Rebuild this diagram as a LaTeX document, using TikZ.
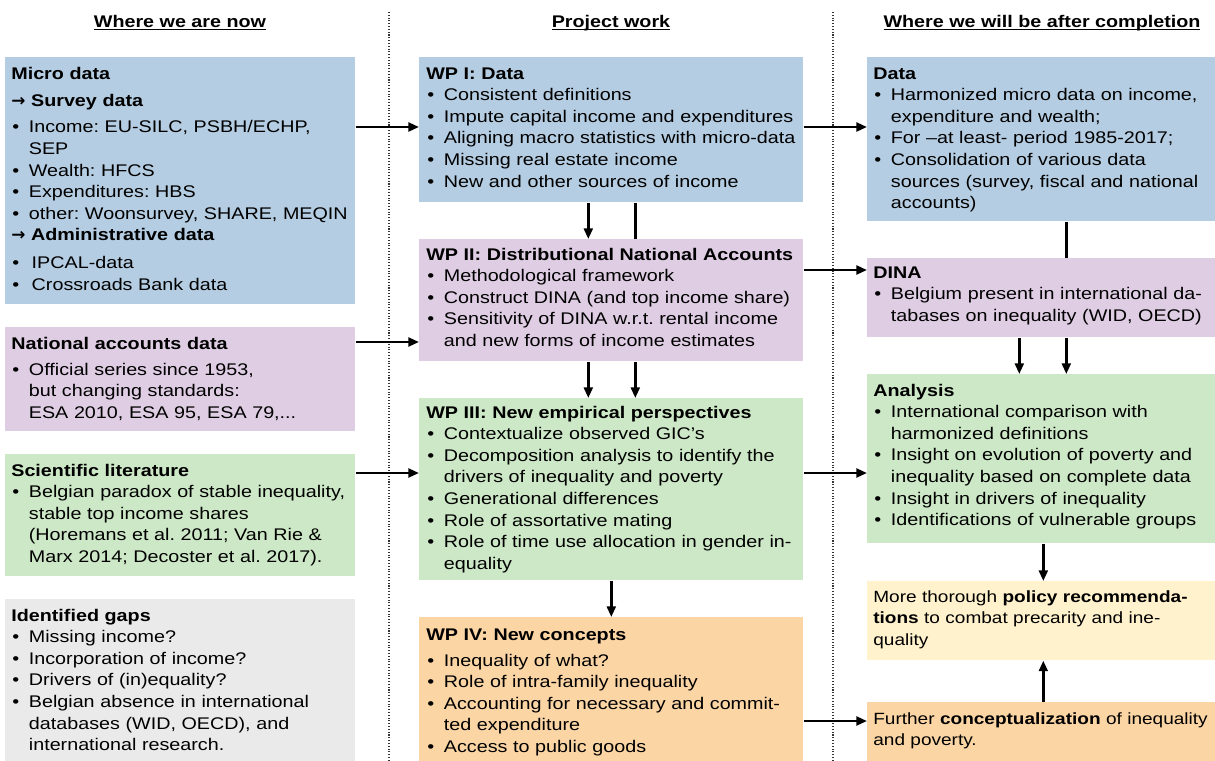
\documentclass[tikz,border=0pt]{standalone}
\usepackage{fontspec}
\setmainfont{Liberation Sans}[FakeStretch=1.17]
\newfontfamily\arrowfont{DejaVu Sans}
\usepackage{tikz}
\usetikzlibrary{
  calc
  , positioning
  % for arrow tips
  , arrows.meta
}
\frenchspacing
\definecolor{DataColor}{RGB}{181,205,226}
\definecolor{DinaColor}{RGB}{223,205,228}
\definecolor{LitColor}{RGB}{205,232,198}
\definecolor{GapColor}{RGB}{234,234,234}
\definecolor{ConcColor}{RGB}{252,213,165}
\definecolor{PolColor}{RGB}{255,242,205}
\newcommand{\itm}{\par\hangindent=10pt\hangafter=1\noindent\hbox to 10pt{\hskip0.6pt\textbullet\hfil}}
\newcommand{\arw}{{\arrowfont\bfseries →}}

\begin{document}
\begin{tikzpicture}[
    x=0.02cm, y=-0.02cm,
    box/.style={anchor=north west, inner sep=0pt, draw=none},
    txt/.style={anchor=base west, inner sep=0pt, text width=9cm, align=left,
      font=\fontsize{9.6}{12.3}\selectfont},
    hdr/.style={anchor=base, inner sep=0pt, font=\fontsize{9.6}{12.3}\selectfont\bfseries},
    sep/.style={densely dotted, line width=0.6pt, black!80},
    arr/.style={line width=1.4pt, -{Triangle[length=6pt,width=5pt]}},
    ln/.style={line width=1.4pt},
  ]
  \useasboundingbox (0,0) rectangle (1215,761);

  % ------ headers and separators
  \node[hdr] (hdrNow) at (180,27) {\underline{\smash{Where we are now}}};
  \node[hdr] (hdrWork) at (611,27) {\underline{\smash{Project work}}};
  \node[hdr] (hdrAfter) at (1042,27) {\underline{\smash{Where we will be after completion}}};
  \draw[sep] (389,12) -- (389,761);
  \draw[sep] (833,12) -- (833,761);

  % ------ where we are now
  \node[box, fill=DataColor, minimum width=7cm, minimum height=4.94cm] (micro) at (5,57) {};
  \node[txt] (microT) at ([shift={(6,22)}]micro.north west) {%
    \textbf{Micro data}\par\vspace{3.6pt}
    \arw\ \textbf{Survey data}\par\vspace{2.5pt}
    \itm Income: EU-SILC, PSBH/ECHP,\newline SEP
    \itm Wealth: HFCS
    \itm Expenditures: HBS
    \itm other: Woonsurvey, SHARE, MEQIN
    \par\arw\ \textbf{Administrative data}\par\vspace{3.6pt}
    \itm\hspace{1.6pt}IPCAL-data
    \itm\hspace{1.6pt}Crossroads Bank data\par};

  \node[box, fill=DinaColor, minimum width=7cm, minimum height=2.08cm] (nat) at (5,327) {};
  \node[txt] (natT) at ([shift={(6,22)}]nat.north west) {%
    \textbf{National accounts data}\par\vspace{2.5pt}
    \itm Official series since 1953,\newline but changing standards:\newline ESA 2010, ESA 95, ESA 79,...\par};

  \node[box, fill=LitColor, minimum width=7cm, minimum height=2.44cm] (lit) at (5,454) {};
  \node[txt] (litT) at ([shift={(6,22)}]lit.north west) {%
    \textbf{Scientific literature}
    \itm Belgian paradox of stable inequality,\newline stable top income shares\newline
    (Horemans et al. 2011; Van Rie \&\newline Marx 2014; Decoster et al. 2017).\par};

  \node[box, fill=GapColor, minimum width=7cm, minimum height=3.24cm] (gaps) at (5,599) {};
  \node[txt] (gapsT) at ([shift={(6,22)}]gaps.north west) {%
    \textbf{Identified gaps}
    \itm Missing income?
    \itm Incorporation of income?
    \itm Drivers of (in)equality?
    \itm Belgian absence in international\newline databases (WID, OECD), and\newline international research.\par};

  % ------ project work
  \node[box, fill=DataColor, minimum width=7.68cm, minimum height=2.9cm] (wp1) at (419,57) {};
  \node[txt] (wp1T) at ([shift={(7,22)}]wp1.north west) {%
    \textbf{WP I: Data}
    \itm Consistent definitions
    \itm Impute capital income and expenditures
    \itm Aligning macro statistics with micro-data
    \itm Missing real estate income
    \itm New and other sources of income\par};

  \node[box, fill=DinaColor, minimum width=7.68cm, minimum height=2.44cm] (wp2) at (419,239) {};
  \node[txt] (wp2T) at ([shift={(7,21)}]wp2.north west) {%
    \textbf{WP II: Distributional National Accounts}
    \itm Methodological framework
    \itm Construct DINA (and top income share)
    \itm Sensitivity of DINA w.r.t. rental income\newline and new forms of income estimates\par};

  \node[box, fill=LitColor, minimum width=7.68cm, minimum height=3.64cm] (wp3) at (419,398) {};
  \node[txt] (wp3T) at ([shift={(7,20)}]wp3.north west) {%
    \textbf{WP III: New empirical perspectives}
    \itm Contextualize observed GIC’s
    \itm Decomposition analysis to identify the\newline drivers of inequality and poverty
    \itm Generational differences
    \itm Role of assortative mating
    \itm Role of time use allocation in gender in-\newline equality\par};

  \node[box, fill=ConcColor, minimum width=7.68cm, minimum height=2.88cm] (wp4) at (419,617) {};
  \node[txt] (wp4T) at ([shift={(7,23)}]wp4.north west) {%
    \textbf{WP IV: New concepts}\par\vspace{2.5pt}
    \itm Inequality of what?
    \itm Role of intra-family inequality
    \itm Accounting for necessary and commit-\newline ted expenditure
    \itm Access to public goods\par};

  % ------ where we will be after completion
  \node[box, fill=DataColor, minimum width=6.96cm, minimum height=3.28cm] (data) at (867,57) {};
  \node[txt] (dataT) at ([shift={(6,22)}]data.north west) {%
    \textbf{Data}
    \itm Harmonized micro data on income,\newline expenditure and wealth;
    \itm For –at least- period 1985-2017;
    \itm Consolidation of various data\newline sources (survey, fiscal and national\newline accounts)\par};

  \node[box, fill=DinaColor, minimum width=6.96cm, minimum height=1.58cm] (dina) at (867,258) {};
  \node[txt] (dinaT) at ([shift={(6,20)}]dina.north west) {%
    \textbf{DINA}
    \itm Belgium present in international da-\newline tabases on inequality (WID, OECD)\par};

  \node[box, fill=LitColor, minimum width=6.96cm, minimum height=3.38cm] (ana) at (867,374) {};
  \node[txt] (anaT) at ([shift={(6,22)}]ana.north west) {%
    \textbf{Analysis}
    \itm International comparison with\newline harmonized definitions
    \itm Insight on evolution of poverty and\newline inequality based on complete data
    \itm Insight in drivers of inequality
    \itm Identifications of vulnerable groups\par};

  \node[box, fill=PolColor, minimum width=6.96cm, minimum height=1.58cm] (pol) at (867,581) {};
  \node[txt, font=\fontsize{9.25}{12.3}\selectfont] (polT) at ([shift={(6,21)}]pol.north west) {%
    More thorough \textbf{policy recommenda-}\newline \textbf{tions} to combat precarity and ine-\newline quality\par};

  \node[box, fill=ConcColor, minimum width=6.96cm, minimum height=1.18cm] (fur) at (867,702) {};
  \node[txt, font=\fontsize{9.25}{12.3}\selectfont] (furT) at ([shift={(6,22)}]fur.north west) {%
    Further \textbf{conceptualization} of inequality\newline and poverty.\par};

  % ------ horizontal connectors
  \coordinate (microA) at ([shift={(0,70)}]micro.north east);
  \coordinate (wp1A) at ([shift={(0,70)}]wp1.north east);
  \coordinate (natA) at ([shift={(0,15)}]nat.north east);
  \coordinate (wp2A) at ([shift={(0,31)}]wp2.north east);
  \coordinate (litA) at ([shift={(0,19)}]lit.north east);
  \coordinate (wp3A) at ([shift={(0,75)}]wp3.north east);
  \coordinate (wp4A) at ([shift={(0,104)}]wp4.north east);
  \draw[arr] (microA) -- (microA -| wp1.west);
  \draw[arr] (wp1A) -- (wp1A -| data.west);
  \draw[arr] (natA) -- (natA -| wp2.west);
  \draw[arr] (wp2A) -- (wp2A -| dina.west);
  \draw[arr] (litA) -- (litA -| wp3.west);
  \draw[arr] (wp3A) -- (wp3A -| ana.west);
  \draw[arr] (wp4A) -- (wp4A -| fur.west);

  % ------ vertical connectors
  \draw[arr] ([shift={(-23,0)}]wp1.south) -- ([shift={(-23,0)}]wp2.north);
  \draw[ln] ([shift={(24,0)}]wp1.south) -- ([shift={(24,0)}]wp2.north);
  \draw[arr] ([shift={(-23,0)}]wp2.south) -- ([shift={(-23,0)}]wp3.north);
  \draw[arr] ([shift={(24,0)}]wp2.south) -- ([shift={(24,0)}]wp3.north);
  \draw[arr] (wp3.south) -- (wp4.north);
  \draw[ln] ([shift={(25,0)}]data.south) -- ([shift={(25,0)}]dina.north);
  \draw[arr] ([shift={(-22,0)}]dina.south) -- ([shift={(-22,0)}]ana.north);
  \draw[arr] ([shift={(25,0)}]dina.south) -- ([shift={(25,0)}]ana.north);
  \draw[arr] ([shift={(2,0)}]ana.south) -- ([shift={(2,0)}]pol.north);
  \draw[arr] ([shift={(2,0)}]fur.north) -- ([shift={(2,0)}]pol.south);
\end{tikzpicture}
\end{document}
